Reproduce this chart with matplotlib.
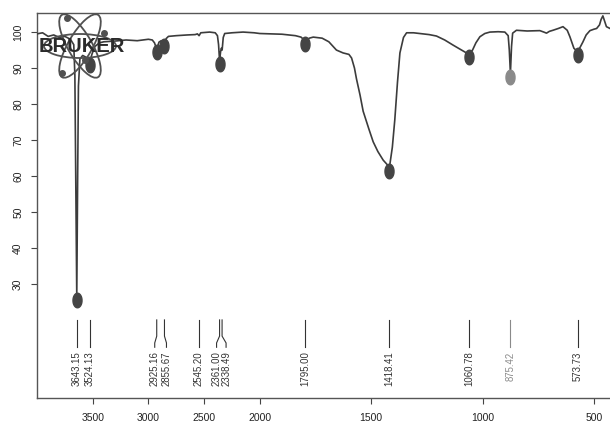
import numpy as np
import matplotlib
matplotlib.use("Agg")
import matplotlib.pyplot as plt
import matplotlib.transforms as mtransforms
from matplotlib.lines import Line2D
from matplotlib.patches import Ellipse

plt.rcParams['font.family'] = ['Liberation Sans', 'DejaVu Sans']

# spectrum (wavenumber cm-1, transmittance %)
wavenumber = [4000, 3950, 3900, 3850, 3800, 3750, 3700, 3670, 3660, 3652, 3643, 3635,
              3628, 3615, 3590, 3560, 3540, 3524, 3505, 3480, 3440, 3400, 3300, 3200,
              3100, 3000, 2965, 2945, 2925, 2905, 2885, 2870, 2855, 2840, 2820, 2750,
              2650, 2580, 2560, 2545, 2530, 2450, 2400, 2380, 2370, 2361, 2352, 2345,
              2338, 2328, 2315, 2250, 2150, 2050, 2000, 1900, 1840, 1815, 1795, 1778,
              1760, 1720, 1690, 1656, 1626, 1600, 1588, 1575, 1566, 1550, 1536, 1510,
              1491, 1470, 1446, 1430, 1418, 1405, 1394, 1382, 1371, 1355, 1341, 1310,
              1282, 1240, 1207, 1170, 1133, 1100, 1075, 1060, 1045, 1030, 1012, 990,
              967, 930, 900, 885, 880, 875, 870, 865, 848, 800, 743, 725, 713, 700,
              684, 660, 639, 620, 608, 590, 573, 560, 550, 535, 518, 500, 488, 475,
              468, 460, 452, 444, 428]
transmittance = [99.5, 99.8, 98.8, 99.2, 98.5, 98.8, 98.0, 96.5, 88.0, 60.0, 26.5, 60.0,
                 85.0, 92.5, 93.5, 93.0, 92.5, 92.0, 94.0, 96.0, 97.0, 97.3, 97.5, 97.8,
                 97.6, 98.0, 97.8, 97.0, 95.2, 97.2, 97.6, 97.2, 96.8, 98.2, 98.8, 99.0,
                 99.2, 99.3, 99.5, 99.0, 99.8, 100.0, 99.8, 99.0, 96.5, 92.0, 94.5, 95.5,
                 95.0, 98.5, 99.6, 99.8, 100.0, 99.8, 99.6, 99.4, 99.0, 98.6, 97.5, 98.3,
                 98.6, 98.3, 97.3, 95.0, 94.2, 93.8, 92.8, 90.0, 87.0, 82.5, 78.0, 73.0,
                 69.5, 66.8, 64.4, 63.3, 62.4, 68.0, 75.6, 86.0, 94.2, 98.5, 99.8, 99.8,
                 99.6, 99.3, 98.9, 97.8, 96.4, 95.2, 94.3, 94.0, 95.0, 97.0, 98.7, 99.6,
                 100.0, 100.1, 100.0, 99.0, 95.0, 88.5, 96.0, 99.7, 100.5, 100.3, 100.4, 100.0,
                 99.7, 100.2, 100.5, 101.0, 101.5, 100.5, 98.7, 95.5, 94.5, 96.0, 97.2, 99.2,
                 100.4, 100.8, 101.0, 102.0, 103.5, 104.5, 103.0, 101.5, 101.0]

# picked peaks (markers)
peak_wn = [3643.15, 3524.13, 2925.16, 2855.67, 2361.00, 1795.00, 1418.41, 1060.78, 875.42, 573.73]
peak_t = [25.6, 90.9, 94.4, 96.1, 91.1, 96.7, 61.4, 93.1, 87.5, 93.6]

# peak labels along the bottom
label_wn = [3643.15, 3524.13, 2925.16, 2855.67, 2545.20, 2361.00, 2338.49,
            1795.00, 1418.41, 1060.78, 875.42, 573.73]
label_dx = [0, 0, -2, 2, 0, -3, 4, 0, 0, 0, 0, 0]

x_ticks = [3500, 3000, 2500, 2000, 1500, 1000, 500]
y_ticks = [30, 40, 50, 60, 70, 80, 90, 100]


# OPUS style axis: region above 2000 cm-1 is compressed by 2
def fwd(w):
    w = np.asarray(w, dtype=float)
    return np.where(w > 2000, 2000 + (w - 2000) * 0.5, w)


def inv(u):
    u = np.asarray(u, dtype=float)
    return np.where(u > 2000, 2000 + (u - 2000) * 2.0, u)


W, H = 610, 436
fig = plt.figure(figsize=(W / 100, H / 100), dpi=100)
fig.patch.set_facecolor('white')
ax = fig.add_axes([37 / W, 38 / H, 1 - 37 / W, 385 / H])

ax.set_xscale('function', functions=(fwd, inv))
ax.set_xlim(4000, 428)
ax.set_ylim(-1.7, 105.3)

ink = '#3c3c3c'
ax.plot(wavenumber, transmittance, color=ink, lw=1.2, zorder=3)

# elliptical peak markers
t = np.linspace(0, 2 * np.pi, 40)
ell = np.column_stack([0.62 * np.cos(t), np.sin(t)])
for wn, tv in zip(peak_wn, peak_t):
    c = '#8a8a8a' if abs(wn - 875.42) < 1 else '#444444'
    ax.plot([wn], [tv], marker=ell, ms=10.5, color=c, mec=c, ls='none', zorder=4)

for wn, dx in zip(label_wn, label_dx):
    c = '#8a8a8a' if abs(wn - 875.42) < 1 else '#333333'
    top = ax.transData.transform([(wn, 20), (wn, 15.5)])
    bot = ax.transData.transform([(wn, 13.6), (wn, 12.4)]) + [dx, 0]
    pts = np.vstack([top, bot])
    ax.add_line(Line2D(pts[:, 0], pts[:, 1], color=c, lw=0.8,
                       transform=mtransforms.IdentityTransform()))
    tr = mtransforms.offset_copy(ax.transData, fig=fig, x=dx, y=0, units='dots')
    ax.text(wn, 11.2, f'{wn:.2f}', rotation=90, ha='center', va='top',
            fontsize=6.9, color=c, transform=tr)

ax.set_xticks(x_ticks)
ax.set_xticklabels([str(v) for v in x_ticks])
ax.set_yticks(y_ticks)
ax.set_yticklabels([str(v) for v in y_ticks], rotation=90, va='center')
ax.minorticks_off()
ax.tick_params(axis='both', direction='out', length=4, width=0.8, colors='#444444',
               labelsize=7.5, labelcolor='#222222')
ax.tick_params(axis='x', pad=7)
ax.tick_params(axis='y', pad=6)
for side in ['left', 'top', 'bottom']:
    ax.spines[side].set_color('#555555')
    ax.spines[side].set_linewidth(1.0)
ax.spines['right'].set_visible(False)

# Bruker logo overlay (pixel coordinates)
lg = fig.add_axes([0, 0, 1, 1], facecolor='none')
lg.set_xlim(0, W)
lg.set_ylim(H, 0)
lg.axis('off')
cx, cy = 80, 46
for ang in [0, 60, 120]:
    lg.add_patch(Ellipse((cx, cy), 72, 24, angle=ang, fill=False,
                         ec='#505050', lw=1.3))
for px, py in [(67, 18), (85, 60), (62, 73), (104, 33)]:
    lg.plot([px], [py], 'o', ms=4, color='#505050')
lg.text(82, 46, 'BRUKER', ha='center', va='center', fontsize=14.5,
        fontweight='heavy', color='#2a2a2a')

fig.savefig('out.png', dpi=100)
